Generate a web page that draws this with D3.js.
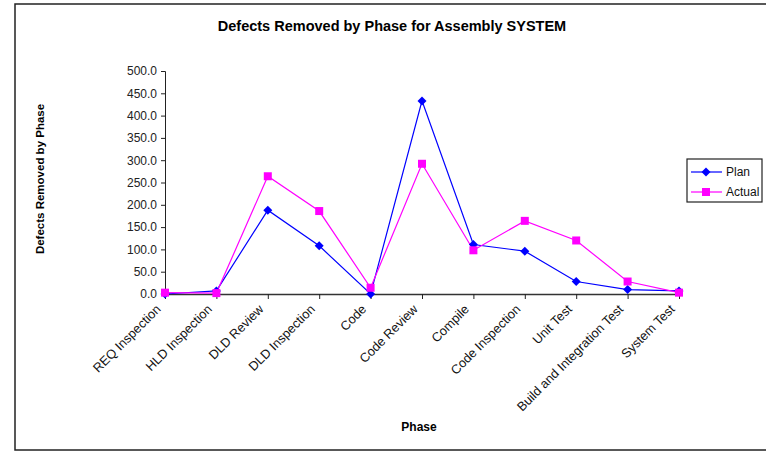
<!DOCTYPE html>
<html><head><meta charset="utf-8">
<script src="https://cdn.jsdelivr.net/npm/d3@7"></script>
<style>body{margin:0;background:#fff;} svg{display:block;font-family:Arial,"Liberation Sans",sans-serif;}</style>
</head><body><svg id="c" width="766" height="451"></svg>
<script>
const phases = ["REQ Inspection","HLD Inspection","DLD Review","DLD Inspection","Code","Code Review","Compile","Code Inspection","Unit Test","Build and Integration Test","System Test"];
const planValues = [0, 7, 188, 108, 0, 433, 111, 96, 28, 10, 7];
const actualValues = [3, 2, 264, 186, 14, 292, 98, 164, 120, 28, 3];
const yTicks = [0,50,100,150,200,250,300,350,400,450,500];
const seriesNames = ["Plan","Actual"];

const svg = d3.select("#c");
svg.append("rect").attr("x",15).attr("y",4).attr("width",780).attr("height",446)
  .attr("fill","none").attr("stroke","#222").attr("stroke-width",1.5);

const x = d3.scalePoint().domain(phases).range([165,679]);
const y = d3.scaleLinear().domain([0,500]).range([294,71]);

svg.append("text").attr("x",392).attr("y",31).attr("text-anchor","middle")
  .attr("font-weight","bold").attr("font-size",14.5).text("Defects Removed by Phase for Assembly SYSTEM");

const ya = svg.append("g").attr("transform","translate(165,0)")
  .call(d3.axisLeft(y).tickValues(yTicks).tickSize(4).tickPadding(4).tickFormat(d3.format(".1f")));
ya.select(".domain").attr("stroke","#222");
ya.selectAll(".tick line").attr("stroke","#222");
ya.selectAll("text").attr("font-size",12).attr("fill","#222").attr("font-family","Arial,'Liberation Sans',sans-serif");

const xa = svg.append("g").attr("transform","translate(0,294)")
  .call(d3.axisBottom(x).tickSize(5).tickSizeOuter(0));
xa.select(".domain").attr("stroke","#333").attr("stroke-width",1.5);
xa.selectAll(".tick line").attr("stroke","#222");
xa.selectAll("text").attr("font-size",12.8).attr("fill","#111").attr("font-family","Arial,'Liberation Sans',sans-serif")
  .attr("text-anchor","end").attr("dy",0).attr("y",0)
  .attr("transform","translate(-4,16) rotate(-45)");

svg.append("text").attr("transform","translate(44,179) rotate(-90)").attr("text-anchor","middle")
  .attr("font-weight","bold").attr("font-size",11.5).text("Defects Removed by Phase");
svg.append("text").attr("x",419).attr("y",431).attr("text-anchor","middle")
  .attr("font-weight","bold").attr("font-size",12).text("Phase");

const line = d3.line().x((d,i)=>x(phases[i])).y(d=>y(d));
const colors = ["#0000ff","#ff00ff"];
[planValues, actualValues].forEach((vals,k)=>{
  svg.append("path").datum(vals).attr("d",line).attr("fill","none").attr("stroke",colors[k]).attr("stroke-width",1.2);
});
function marker(g,k,cx,cy){
  if(k===0){
    g.append("path").attr("d",`M${cx},${cy-4.5}L${cx+4.5},${cy}L${cx},${cy+4.5}L${cx-4.5},${cy}Z`).attr("fill",colors[0]);
  } else {
    g.append("rect").attr("x",cx-4).attr("y",cy-4).attr("width",8).attr("height",8).attr("fill",colors[1]);
  }
}
const mg = svg.append("g");
planValues.forEach((v,i)=>marker(mg,0,x(phases[i]),y(v)));
actualValues.forEach((v,i)=>marker(mg,1,x(phases[i]),y(v)));

const lg = svg.append("g");
lg.append("rect").attr("x",687).attr("y",159).attr("width",75).attr("height",43).attr("fill","#fff").attr("stroke","#222").attr("stroke-width",1.2);
seriesNames.forEach((n,k)=>{
  const ly = 172 + k*20;
  lg.append("line").attr("x1",691).attr("x2",722).attr("y1",ly).attr("y2",ly).attr("stroke",colors[k]).attr("stroke-width",1.2);
  marker(lg,k,706,ly);
  lg.append("text").attr("x",726).attr("y",ly+4).attr("font-size",12).attr("fill","#111").text(n);
});
</script></body></html>
